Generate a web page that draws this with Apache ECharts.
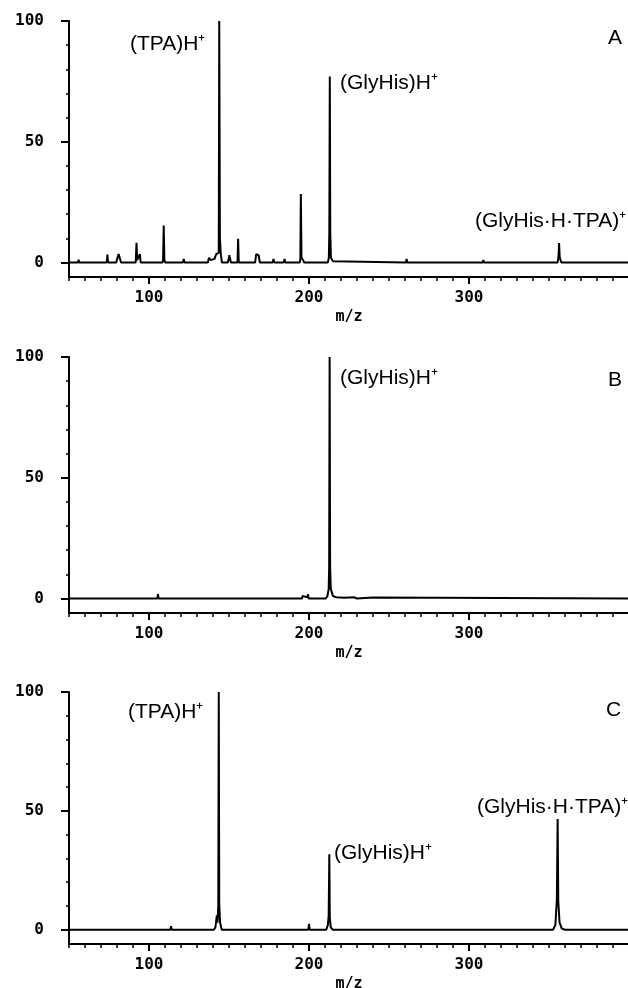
<!DOCTYPE html>
<html>
<head>
<meta charset="utf-8">
<script src="https://cdn.jsdelivr.net/npm/echarts@6/dist/echarts.min.js"></script>
<style>
  html, body { margin: 0; padding: 0; background: #fff; }
  #chart { width: 628px; height: 988px; }
</style>
</head>
<body>
<div id="chart"></div>
<script>
// spectra as [m/z, relative intensity]
const spectrumA = [
  [50, 0], [55.6, 0], [56, 1.2], [56.4, 0],
  [73.6, 0], [74, 3.3], [74.4, 0],
  [79.5, 0], [80.3, 2], [81, 3.5], [81.7, 2], [82.5, 0],
  [91.7, 0], [92.2, 8.2], [92.6, 1], [93.8, 1], [94.3, 3.5], [94.8, 0],
  [108.4, 0], [108.8, 1], [109.2, 15.3], [109.6, 1], [110.2, 0],
  [121.2, 0], [121.7, 1.5], [122.2, 0],
  [136.8, 0], [137.5, 2], [138.4, 1], [141, 1.5], [142, 3.5], [143.6, 4], [143.9, 100], [144.3, 11], [144.8, 4], [145.6, 0],
  [149.3, 0], [150.2, 3], [151.2, 0],
  [155.3, 0], [155.7, 9.8], [156.1, 0],
  [166.3, 0], [167, 3.5], [168.5, 3], [169.3, 0],
  [177.3, 0], [177.8, 1.5], [178.3, 0],
  [184.2, 0], [184.7, 1.5], [185.2, 0],
  [194.2, 0], [194.6, 1.5], [194.9, 28.4], [195.3, 2], [196.3, 1], [197, 0],
  [211.8, 0], [212.4, 2], [212.7, 12], [213, 77], [213.3, 12], [213.7, 2], [215, 0.5], [216, 0],
  [260.6, 0], [261, 1.5], [261.4, 0],
  [308.6, 0], [309, 1], [309.4, 0],
  [355.4, 0], [356, 3], [356.3, 8.1], [356.7, 2], [357.7, 0],
  [400, 0]
]
const spectrumB = [
  [50, 0], [69.6, 0], [70, 0.6], [70.4, 0],
  [105.2, 0], [105.6, 1.8], [106, 0],
  [195.6, 0], [196, 1], [196.4, 0.3], [199, 0.5], [199.4, 1.8], [199.8, 0],
  [210.5, 0], [211.5, 1], [212.3, 4], [212.6, 13], [212.9, 100], [213.2, 13], [213.6, 4], [215, 1], [217, 0.5], [222, 0.3], [228, 0.5], [230, 0],
  [240, 0.4], [241, 0],
  [400, 0]
]
const spectrumC = [
  [50, 0], [113.4, 0], [113.8, 1.5], [114.2, 0],
  [140.5, 0], [141.5, 1], [142.4, 6], [142.8, 3], [143.3, 10], [143.6, 100], [143.9, 11], [144.4, 3], [145.5, 0],
  [199.6, 0], [200, 2.5], [200.4, 0],
  [210.8, 0], [211.8, 2], [212.3, 6], [212.7, 31.8], [213, 5], [213.6, 1], [214.8, 0],
  [352.5, 0], [354, 2], [354.9, 12.6], [355.4, 46.6], [355.8, 12], [356.6, 3], [358, 0.5], [360, 0],
  [400, 0]
]

const xMinor = [50, 60, 70, 80, 90, 100, 110, 120, 130, 140, 150, 160, 170, 180, 190, 200, 210, 220, 230, 240, 250, 260, 270, 280, 290, 300, 310, 320, 330, 340, 350, 360, 370, 380, 390, 400]
const xLabels = [100, 200, 300]
const yMinor = [0, 10, 20, 30, 40, 50, 60, 70, 80, 90, 100]
const yLabels = [0, 50, 100]

const panels = [
  { data: spectrumA, top: 21, height: 256 },
  { data: spectrumB, top: 357, height: 256 },
  { data: spectrumC, top: 692, height: 252 }
]

// peak labels (text, left px, centre y px)
const notes = [
  ['(TPA)H⁺', 130, 44], ['(GlyHis)H⁺', 340, 83], ['A', 608, 38], ['(GlyHis·H·TPA)⁺', 475, 221],
  ['(GlyHis)H⁺', 340, 378], ['B', 608, 380],
  ['(TPA)H⁺', 128, 712], ['C', 606, 710], ['(GlyHis)H⁺', 334, 853], ['(GlyHis·H·TPA)⁺', 477, 807]
]

const chart = echarts.init(document.getElementById('chart'))

const monoFont = {
  color: '#000',
  fontFamily: 'DejaVu Sans Mono',
  fontWeight: 'bold',
  fontSize: 16
}

const grid = []
const xAxis = []
const yAxis = []
const series = []

panels.forEach(function (p, i) {
  grid.push({ left: 69, width: 560, top: p.top, height: p.height, outerBoundsMode: 'none', containLabel: false })
  // axis line + small ticks every 10
  xAxis.push({
    gridIndex: i, type: 'value', min: 50, max: 400, position: 'bottom',
    axisLine: { onZero: false, lineStyle: { color: '#000', width: 2 } },
    axisTick: { customValues: xMinor, length: 4, lineStyle: { color: '#000', width: 1.5 } },
    axisLabel: { show: false },
    splitLine: { show: false }
  })
  // labelled ticks + m/z
  xAxis.push({
    gridIndex: i, type: 'value', min: 50, max: 400, position: 'bottom',
    axisLine: { show: false, onZero: false },
    axisTick: { customValues: xLabels, length: 7, lineStyle: { color: '#000', width: 2 } },
    axisLabel: Object.assign({ customValues: xLabels, margin: 13 }, monoFont),
    splitLine: { show: false },
    name: 'm/z', nameLocation: 'middle', nameGap: 33,
    nameTextStyle: Object.assign({}, monoFont, { fontSize: 15 })
  })
  yAxis.push({
    gridIndex: i, type: 'value', min: -6, max: 100, position: 'left',
    axisLine: { show: true, onZero: false, lineStyle: { color: '#000', width: 2 } },
    axisTick: { customValues: yMinor, length: 3, lineStyle: { color: '#000', width: 1.5 } },
    axisLabel: { show: false },
    splitLine: { show: false }
  })
  yAxis.push({
    gridIndex: i, type: 'value', min: -6, max: 100, position: 'left',
    axisLine: { show: false, onZero: false },
    axisTick: { customValues: yLabels, length: 8, lineStyle: { color: '#000', width: 2 } },
    axisLabel: Object.assign({ customValues: yLabels, margin: 25 }, monoFont),
    splitLine: { show: false }
  })
  series.push({
    type: 'line',
    xAxisIndex: i * 2,
    yAxisIndex: i * 2,
    data: p.data,
    showSymbol: false,
    lineStyle: { color: '#000', width: 2 },
    silent: true
  })
})

const graphic = notes.map(function (n) {
  return {
    type: 'text',
    x: n[1],
    y: n[2],
    style: {
      text: n[0],
      fill: '#000',
      fontFamily: 'Liberation Sans',
      fontSize: 21,
      verticalAlign: 'middle'
    }
  }
})

chart.setOption({
  animation: false,
  backgroundColor: '#fff',
  grid: grid,
  xAxis: xAxis,
  yAxis: yAxis,
  series: series,
  graphic: graphic
})
</script>
</body>
</html>
